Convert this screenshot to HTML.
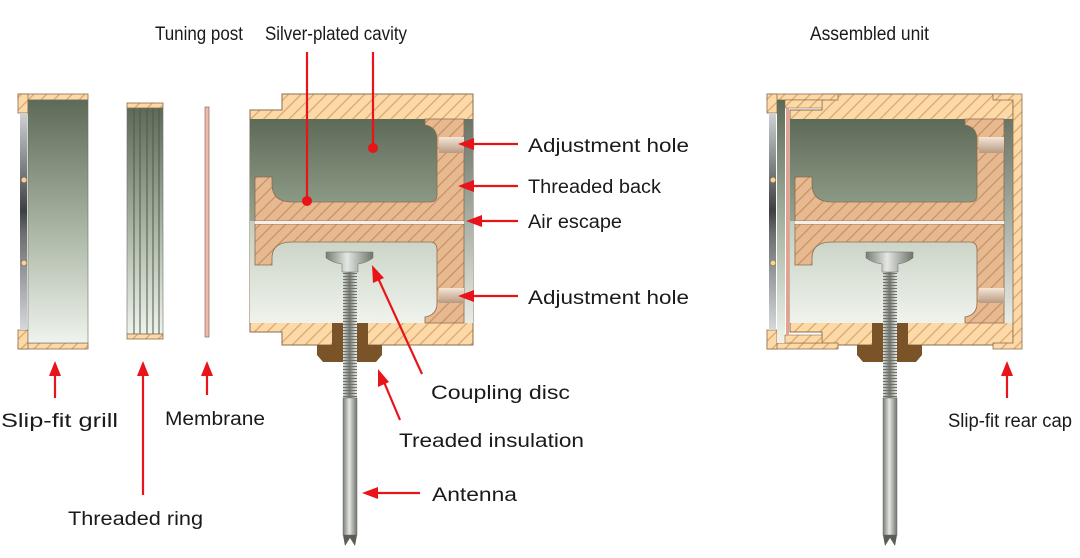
<!DOCTYPE html>
<html><head><meta charset="utf-8"><style>
html,body{margin:0;padding:0;background:#fff;}
svg{display:block;}
text{font-family:"Liberation Sans",sans-serif;font-size:19px;fill:#1a1a1a;}
</style></head><body>
<svg width="1080" height="558" viewBox="0 0 1080 558" xmlns="http://www.w3.org/2000/svg">
<defs>
<pattern id="hl" width="9" height="9" patternUnits="userSpaceOnUse" patternTransform="rotate(45)">
<rect width="9" height="9" fill="#fcd9a6"/><rect width="1.2" height="9" fill="#d8a56c"/></pattern>
<pattern id="hd" width="9" height="9" patternUnits="userSpaceOnUse" patternTransform="rotate(45)">
<rect width="9" height="9" fill="#e6b991"/><rect width="1.2" height="9" fill="#c98f61"/></pattern>
<linearGradient id="gdark" x1="0" y1="0" x2="0" y2="1"><stop offset="0" stop-color="#5c6a57"/><stop offset="1" stop-color="#96a38f"/></linearGradient>
<linearGradient id="glight" x1="0" y1="0" x2="0" y2="1"><stop offset="0" stop-color="#c3cdbe"/><stop offset="1" stop-color="#eff3ec"/></linearGradient>
<linearGradient id="gfull" x1="0" y1="0" x2="0" y2="1"><stop offset="0" stop-color="#5c6a57"/><stop offset="0.5" stop-color="#a5b19f"/><stop offset="1" stop-color="#eff3ec"/></linearGradient>
<linearGradient id="ggap" x1="0" y1="0" x2="0" y2="1"><stop offset="0" stop-color="#6a7466"/><stop offset="1" stop-color="#e8ece6"/></linearGradient>
<linearGradient id="gbar" x1="0" y1="0" x2="0" y2="1"><stop offset="0" stop-color="#cfd3d6"/><stop offset="0.45" stop-color="#3e3f42"/><stop offset="0.55" stop-color="#6a6c70"/><stop offset="1" stop-color="#d6d9dc"/></linearGradient>
<linearGradient id="ghole" x1="0" y1="0" x2="0" y2="1"><stop offset="0" stop-color="#f6e6d6"/><stop offset="1" stop-color="#b79a82"/></linearGradient>
<linearGradient id="gmetal" x1="0" y1="0" x2="1" y2="0"><stop offset="0" stop-color="#777c74"/><stop offset="0.45" stop-color="#e4e7e2"/><stop offset="1" stop-color="#6f746c"/></linearGradient>
<pattern id="thr" width="14" height="3" patternUnits="userSpaceOnUse"><rect width="14" height="3" fill="url(#gmetal)"/><rect width="14" height="1" fill="#6d7169"/></pattern>
<g id="cav">
 <path d="M250,110 H282 V94 H473 V345 H282 V332 H250 Z" fill="url(#hl)" stroke="#8a6d4e" stroke-width="1"/>
 <rect x="250" y="119" width="214" height="102" fill="url(#gdark)"/>
 <rect x="250" y="221" width="214" height="102" fill="url(#glight)"/>
 <rect x="464" y="119" width="9" height="204" fill="url(#ggap)"/>
 <path d="M425,119 H464 V221 H255 V177 H272 V184 Q272,202 292,202 H430 Q437,202 437,195 V140 Q437,127 425,125 Z" fill="url(#hd)" stroke="#8a6d4e" stroke-width="0.8"/>
 <path d="M255,224 H464 V323 H425 V317 Q437,315 437,303 V250 Q437,242 430,242 H292 Q272,242 272,258 V265 H255 Z" fill="url(#hd)" stroke="#8a6d4e" stroke-width="0.8"/>
 <rect x="255" y="221" width="209" height="3" fill="#f4efe9"/>
 <rect x="439" y="137" width="25" height="16" fill="url(#ghole)"/>
 <rect x="439" y="288" width="25" height="15" fill="url(#ghole)"/>
 <rect x="332" y="323" width="36" height="25" fill="#7a5428"/>
 <path d="M317,345 H382 V355 L376,362 H323 L317,355 Z" fill="#7a5428"/>
 <rect x="343" y="268" width="14" height="130" fill="url(#thr)"/>
 <rect x="343" y="398" width="14" height="137" fill="url(#gmetal)" stroke="#6b6f68" stroke-width="0.5"/>
 <path d="M343,535 L345,546 L350,538 L355,546 L357,535 Z" fill="#5a5e57"/>
 <path d="M326,252 H373 V258 Q366,263 358,264 V272 H342 V264 Q333,263 326,258 Z" fill="url(#gmetal)" stroke="#6b6f68" stroke-width="0.5"/>
</g>
</defs>

<rect x="18" y="94" width="70" height="6" fill="url(#hl)" stroke="#8a6d4e" stroke-width="0.8"/>
<rect x="18" y="343" width="70" height="6" fill="url(#hl)" stroke="#8a6d4e" stroke-width="0.8"/>
<rect x="18" y="94" width="10" height="19" fill="url(#hl)" stroke="#8a6d4e" stroke-width="0.8"/>
<rect x="18" y="330" width="10" height="19" fill="url(#hl)" stroke="#8a6d4e" stroke-width="0.8"/>
<rect x="20" y="113" width="7" height="217" fill="url(#gbar)"/>
<circle cx="24" cy="180" r="2.8" fill="#f4d29a" stroke="#8a6d4e" stroke-width="0.6"/>
<circle cx="24" cy="263" r="2.8" fill="#f4d29a" stroke="#8a6d4e" stroke-width="0.6"/>
<rect x="28" y="100" width="60" height="243" fill="url(#gfull)" stroke="#6b6f68" stroke-width="0.6"/>
<rect x="127" y="108" width="36" height="226" fill="url(#gfull)" stroke="#6b6f68" stroke-width="0.6"/>
<g stroke="#4f5a4b" stroke-width="1"><line x1="134" y1="108" x2="134" y2="334"/><line x1="140" y1="108" x2="140" y2="334"/><line x1="147" y1="108" x2="147" y2="334"/><line x1="153" y1="108" x2="153" y2="334"/><line x1="159" y1="108" x2="159" y2="334"/></g>
<rect x="127" y="103" width="36" height="5" fill="url(#hl)" stroke="#8a6d4e" stroke-width="0.8"/>
<rect x="127" y="334" width="36" height="5" fill="url(#hl)" stroke="#8a6d4e" stroke-width="0.8"/>
<rect x="205" y="107" width="4" height="230" fill="#f0b9ae" stroke="#8a6d5e" stroke-width="0.7"/>

<use href="#cav"/>

<use href="#cav" transform="translate(540,0)"/>
<rect x="767" y="94" width="71" height="6" fill="url(#hl)" stroke="#8a6d4e" stroke-width="0.8"/>
<rect x="767" y="343" width="71" height="6" fill="url(#hl)" stroke="#8a6d4e" stroke-width="0.8"/>
<rect x="767" y="94" width="10" height="19" fill="url(#hl)" stroke="#8a6d4e" stroke-width="0.8"/>
<rect x="767" y="330" width="10" height="19" fill="url(#hl)" stroke="#8a6d4e" stroke-width="0.8"/>
<rect x="769" y="113" width="7" height="217" fill="url(#gbar)"/>
<circle cx="773" cy="180" r="2.8" fill="#f4d29a" stroke="#8a6d4e" stroke-width="0.6"/>
<circle cx="773" cy="263" r="2.8" fill="#f4d29a" stroke="#8a6d4e" stroke-width="0.6"/>
<rect x="777" y="100" width="8" height="243" fill="url(#gfull)"/>
<rect x="785" y="100" width="37" height="8" fill="url(#hl)" stroke="#8a6d4e" stroke-width="0.6"/>
<rect x="785" y="335" width="37" height="8" fill="url(#hl)" stroke="#8a6d4e" stroke-width="0.6"/>
<rect x="786" y="108" width="3" height="227" fill="#e99e92"/>
<path d="M993,94 H1022 V349 H993 V343 H1013 V100 H993 Z" fill="url(#hl)" stroke="#8a6d4e" stroke-width="0.8"/>

<g stroke="#e8141a" stroke-width="2.2" fill="none">
<line x1="307" y1="52" x2="307" y2="201"/>
<line x1="373" y1="52" x2="373" y2="148"/>
<line x1="518" y1="144" x2="470" y2="144"/>
<line x1="518" y1="186" x2="470" y2="186"/>
<line x1="518" y1="221" x2="478" y2="221"/>
<line x1="518" y1="296" x2="470" y2="296"/>
<line x1="422" y1="374" x2="378" y2="278"/>
<line x1="400" y1="420" x2="384" y2="382"/>
<line x1="420" y1="493" x2="372" y2="493"/>
<line x1="55" y1="398" x2="55" y2="372"/>
<line x1="143" y1="495" x2="143" y2="372"/>
<line x1="207" y1="395" x2="207" y2="372"/>
<line x1="1007" y1="398" x2="1007" y2="372"/>
</g>
<g fill="#e8141a">
<circle cx="307" cy="201" r="5"/><circle cx="373" cy="148" r="5"/>
<path d="M458,144 L474,138 L474,150 Z"/>
<path d="M458,186 L474,180 L474,192 Z"/>
<path d="M466,221 L482,215 L482,227 Z"/>
<path d="M458,296 L474,290 L474,302 Z"/>
<path d="M372,265 L373,283 L384,278 Z"/>
<path d="M378,369 L378,387 L389,382 Z"/>
<path d="M362,493 L378,487 L378,499 Z"/>
<path d="M55,361 L49,376 L61,376 Z"/>
<path d="M143,361 L137,376 L149,376 Z"/>
<path d="M207,361 L201,376 L213,376 Z"/>
<path d="M1007,361 L1001,376 L1013,376 Z"/>
</g>

<g>
<text x="155" y="40" textLength="88" lengthAdjust="spacingAndGlyphs">Tuning post</text>
<text x="265" y="40" textLength="142" lengthAdjust="spacingAndGlyphs">Silver-plated cavity</text>
<text x="810" y="40" textLength="119" lengthAdjust="spacingAndGlyphs">Assembled unit</text>
<text x="528" y="152" textLength="161" lengthAdjust="spacingAndGlyphs">Adjustment hole</text>
<text x="528" y="193" textLength="133" lengthAdjust="spacingAndGlyphs">Threaded back</text>
<text x="528" y="228" textLength="94" lengthAdjust="spacingAndGlyphs">Air escape</text>
<text x="528" y="304" textLength="161" lengthAdjust="spacingAndGlyphs">Adjustment hole</text>
<text x="431" y="399" textLength="139" lengthAdjust="spacingAndGlyphs">Coupling disc</text>
<text x="399" y="447" textLength="185" lengthAdjust="spacingAndGlyphs">Treaded insulation</text>
<text x="432" y="501" textLength="85" lengthAdjust="spacingAndGlyphs">Antenna</text>
<text x="1" y="427" textLength="117" lengthAdjust="spacingAndGlyphs">Slip-fit grill</text>
<text x="68" y="525" textLength="135" lengthAdjust="spacingAndGlyphs">Threaded ring</text>
<text x="165" y="425" textLength="100" lengthAdjust="spacingAndGlyphs">Membrane</text>
<text x="948" y="427" textLength="124" lengthAdjust="spacingAndGlyphs">Slip-fit rear cap</text>
</g>
</svg>
</body></html>
